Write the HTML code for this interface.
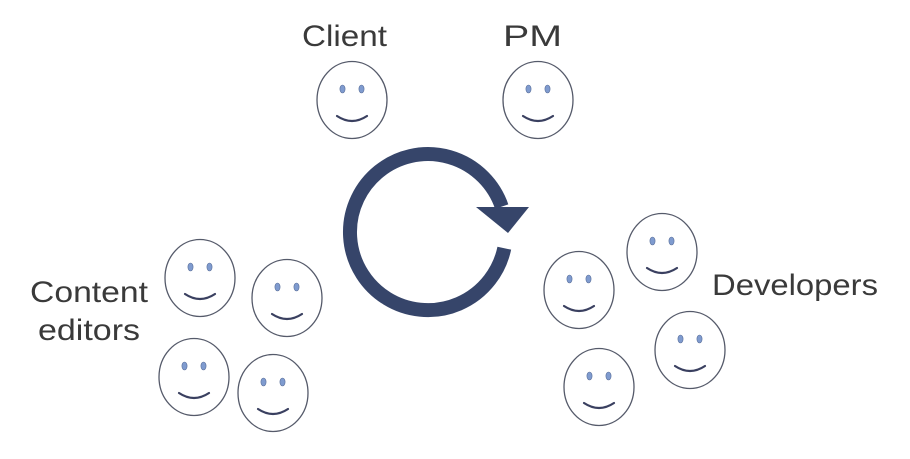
<!DOCTYPE html>
<html><head><meta charset="utf-8"><style>
html,body{margin:0;padding:0;background:#fff;}
svg{display:block}
text{font-family:"Liberation Sans",sans-serif;fill:#3a3a3a;font-size:30px}
</style></head><body>
<svg width="910" height="459" viewBox="0 0 910 459" xmlns="http://www.w3.org/2000/svg">
<defs>
<g id="f">
<ellipse cx="0" cy="0" rx="35" ry="38.5" fill="#fff" stroke="#555a6a" stroke-width="1.3"/>
<ellipse cx="-9.5" cy="-11" rx="2.6" ry="4" fill="#7f9bcf" stroke="#5a6f9a" stroke-width="0.6"/>
<ellipse cx="9.5" cy="-11" rx="2.6" ry="4" fill="#7f9bcf" stroke="#5a6f9a" stroke-width="0.6"/>
<path d="M -15 16 Q 0 26 15 16" fill="none" stroke="#3a4060" stroke-width="2.2" stroke-linecap="round"/>
</g>
</defs>
<text x="302" y="46" textLength="85" lengthAdjust="spacingAndGlyphs">Client</text>
<text x="503" y="46" textLength="59" lengthAdjust="spacingAndGlyphs">PM</text>
<text x="30" y="302" textLength="118" lengthAdjust="spacingAndGlyphs">Content</text>
<text x="38" y="340" textLength="102" lengthAdjust="spacingAndGlyphs">editors</text>
<text x="712" y="295" textLength="166" lengthAdjust="spacingAndGlyphs">Developers</text>
<use href="#f" x="352" y="100"/>
<use href="#f" x="538" y="100"/>
<use href="#f" x="200" y="278"/>
<use href="#f" x="287" y="298"/>
<use href="#f" x="194" y="377"/>
<use href="#f" x="273" y="393"/>
<use href="#f" x="579" y="290"/>
<use href="#f" x="662" y="252"/>
<use href="#f" x="690" y="350"/>
<use href="#f" x="599" y="387"/>
<path d="M 504.3 248.2 A 78 78 0 1 1 501.7 206.6" fill="none" stroke="#36456a" stroke-width="14"/>
<polygon points="476,207 529,207 508,233" fill="#36456a"/>
</svg>
</body></html>
